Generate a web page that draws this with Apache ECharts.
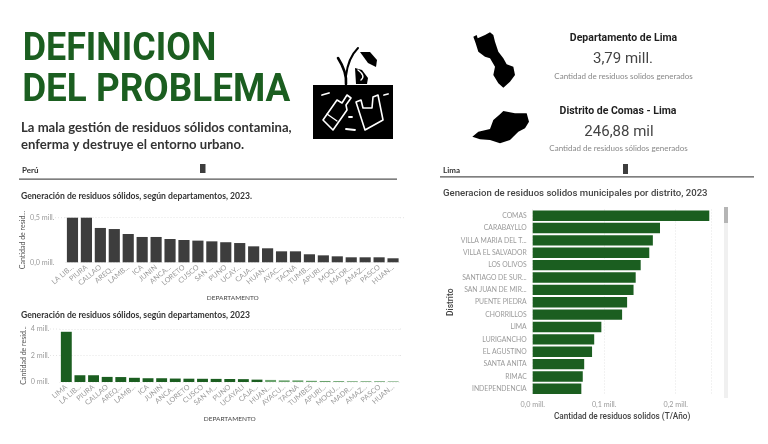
<!DOCTYPE html>
<html><head><meta charset="utf-8">
<style>html,body{margin:0;padding:0;background:#fff}#c{width:768px;height:444px}</style>
<script src="https://cdn.jsdelivr.net/npm/echarts@6/dist/echarts.min.js"></script>
</head><body><div id="c"></div>
<script>
const peruCats = ['LA LIB...','PIURA','CALLAO','AREQ...','LAMB...','ICA','JUNIN','ANCA...','LORETO','CUSCO','SAN ...','PUNO','UCAY...','CAJA...','HUAN...','AYAC...','TACNA','TUMB...','APURI...','MOQ...','MADR...','AMAZ...','PASCO','HUAN...'];
const peruVals = [0.51,0.51,0.385,0.373,0.317,0.284,0.284,0.261,0.25,0.243,0.235,0.225,0.216,0.179,0.157,0.123,0.123,0.09,0.078,0.067,0.056,0.056,0.056,0.045];
const allCats = ['LIMA','LA LIB...','PIURA','CALLAO','AREQ...','LAMB...','ICA','JUNIN','ANCA...','LORETO','CUSCO','SAN M...','PUNO','UCAYALI','CAJA...','HUAN...','AYACU...','TACNA','TUMBES','APURI...','MOQU...','MADR...','AMAZ...','PASCO','HUAN...'];
const allVals = [3.79,0.51,0.51,0.385,0.373,0.317,0.284,0.284,0.261,0.25,0.243,0.235,0.225,0.216,0.179,0.157,0.123,0.123,0.09,0.078,0.067,0.056,0.056,0.056,0.045];
const distCats = ['COMAS','CARABAYLLO','VILLA MARIA DEL T...','VILLA EL SALVADOR','LOS OLIVOS','SANTIAGO DE SUR...','SAN JUAN DE MIR...','PUENTE PIEDRA','CHORRILLOS','LIMA','LURIGANCHO','EL AGUSTINO','SANTA ANITA','RIMAC','INDEPENDENCIA'];
const distVals = [0.2469,0.178,0.168,0.163,0.151,0.144,0.141,0.132,0.125,0.096,0.086,0.083,0.072,0.070,0.068];

const DARK='#3d3d3d', GREEN='#1b5e20', LIGHT='#6aa36d', GREY='#9a9a9a';
const F='Lato';
const txt=(x,y,t,size,color,weight,extra,el)=>Object.assign({type:'text',x,y,silent:true,style:Object.assign({text:t,fontSize:size,fill:color,fontWeight:weight||'normal',fontFamily:F,textVerticalAlign:'middle'},extra||{})},el||{});
const rect=(x,y,w,h,c)=>({type:'rect',silent:true,shape:{x,y,width:w,height:h},style:{fill:c}});
const poly=(pts,c)=>({type:'polygon',silent:true,shape:{points:pts},style:{fill:c}});
const outline=(pts,c,w,fill)=>({type:'polygon',silent:true,shape:{points:pts},style:{fill:fill||'none',stroke:c,lineWidth:w,lineJoin:'round'}});
const curve=(x1,y1,cx,cy,x2,y2,c,w)=>({type:'bezierCurve',silent:true,shape:{x1,y1,cpx1:cx,cpy1:cy,x2,y2},style:{stroke:c,lineWidth:w,fill:'none',lineCap:'round'}});
const line=(a,b,c,d,col,w)=>({type:'line',silent:true,shape:{x1:a,y1:b,x2:c,y2:d},style:{stroke:col,lineWidth:w,lineCap:'round'}});
const dots=(a,b,y)=>({type:'line',silent:true,shape:{x1:a,y1:y,x2:b,y2:y},style:{stroke:'#e4e4e4',lineWidth:1,lineDash:[1,2]}});
const fromZoom=(pts,ox,oy)=>pts.map(p=>[ox+p[0]/3,oy+p[1]/3]);

const limaShape=[[25,35],[35,30],[38,40],[60,30],[75,22],[85,30],[90,50],[100,80],[115,100],[125,118],[145,125],[150,150],[135,170],[115,188],[100,175],[85,150],[90,125],[75,100],[60,95],[40,80],[32,55]];
const comasShape=[[22,335],[40,320],[75,312],[85,285],[105,268],[115,258],[150,265],[185,265],[192,290],[180,310],[160,320],[135,345],[105,355],[75,345],[45,343]];

const graphic=[
 txt(21,50,'DEFINICION',39,GREEN,'bold',{fontFamily:'Roboto'},{scaleX:0.92,originX:21}),
 txt(21,91,'DEL PROBLEMA',39,GREEN,'bold',{fontFamily:'Roboto'},{scaleX:0.945,originX:21}),
 txt(21,128,'La mala gestión de residuos sólidos contamina,',13.1,'#333','bold'),
 txt(21,145,'enferma y destruye el entorno urbano.',13.1,'#333','bold'),
 // icon
 rect(313,85,80,54,'#000'),
 curve(346,84,347,72,338,58,'#000',2.6),
 curve(346,76,348,58,358,48,'#000',2),
 poly([[360,52],[370,52],[377,60],[376,67],[368,63]],'#000'),
 poly([[355,68],[362,70],[368,78],[367,84],[356,84]],'#000'),
 curve(358,70,366,76,361,80,'#fff',1.4),
 outline([[323,120],[337,100],[342,103],[347,95],[351,98],[346,105],[347,110],[333,130]],'#fff',1.6,'#000'),
 line(327,114,337,121,'#fff',1.3),
 outline([[356,102],[361,100],[363,108],[372,108],[373,97],[378,95],[383,120],[365,130]],'#fff',1.6,'#000'),
 line(322,95,329,93,'#fff',1.8), line(349,117,352,117,'#fff',1.8), line(346,129,355,130,'#fff',1.8), line(384,95,388,94,'#fff',1.8),
 // maps
 poly(fromZoom(limaShape,465,25),'#000'),
 poly(fromZoom(comasShape,465,25),'#000'),
 txt(623.5,38,'Departamento de Lima',10.5,'#1f1f1f','bold',{textAlign:'center',fontFamily:'Roboto'}),
 txt(623,59.5,'3,79 mill.',15,'#444','normal',{textAlign:'center',fontFamily:'Roboto'}),
 txt(623.5,76,'Cantidad de residuos solidos generados',8,'#888','normal',{textAlign:'center'}),
 txt(618,111,'Distrito de Comas - Lima',10.5,'#1f1f1f','bold',{textAlign:'center',fontFamily:'Roboto'}),
 txt(619,132,'246,88 mil',15,'#444','normal',{textAlign:'center',fontFamily:'Roboto'}),
 txt(618.5,148,'Cantidad de residuos sólidos generados',8,'#888','normal',{textAlign:'center'}),
 // section headers
 txt(22,170,'Perú',8,'#333','bold'),
 rect(200,164,5.5,9,'#3d3d3d'),
 rect(19,178.5,378,1.2,'#555'),
 txt(443,170,'Lima',8,'#333','bold'),
 rect(623,164,5,10,'#3d3d3d'),
 rect(440,176.3,314,1.2,'#555'),
 txt(21,196,'Generación de residuos sólidos, según departamentos, 2023.',8.6,'#333','bold'),
 txt(21,315,'Generación de residuos sólidos, según departamentos, 2023',8.6,'#333','bold'),
 txt(443,193.5,'Generacion de residuos solidos municipales por distrito, 2023',9.6,'#444','500',{fontFamily:'Roboto'}),
 // scrollbar
 rect(724,207,4,191,'#f0f0f0'), rect(724,207,4,16,'#b5b5b5'),
 // gridline ends beyond the plot
 dots(55,65.5,217.7), dots(400,406,217.7),
 dots(50,59.5,329), dots(400,403,329), dots(50,59.5,355.5), dots(400,403,355.5)
];
const catAxis=(grid,data,name,gap)=>({type:'category',gridIndex:grid,data,
  axisLine:{show:false},axisTick:{show:false},
  axisLabel:{interval:0,rotate:40,fontSize:7.2,color:GREY,margin:4,fontFamily:F},
  name,nameLocation:'middle',nameGap:gap,nameTextStyle:{fontSize:6.5,color:'#444',fontFamily:F}});
const valAxis=(grid,min,max,interval,fmt,gap,margin)=>({type:'value',gridIndex:grid,min,max,interval,
  axisLine:{show:false},axisTick:{show:false},
  axisLabel:{fontSize:7.2,color:GREY,margin,fontFamily:F,formatter:fmt},
  splitLine:{show:true,lineStyle:{type:[1,2],color:'#e4e4e4',width:1}},
  name:'Cantidad de resid...',nameLocation:'middle',nameGap:gap,nameTextStyle:{fontSize:7,color:'#555',fontFamily:F}});
const mill=v=>v.toFixed(1).replace('.',',')+' mill.';
const chart=echarts.init(document.getElementById('c'),null,{renderer:'canvas'});
chart.setOption({
 animation:false,backgroundColor:'#fff',
 graphic,
 grid:[
  {left:65.5,width:334.5,top:217.7,height:44.6},
  {left:59.5,width:340.5,top:329,height:53},
  {left:532.7,width:178.8,top:209.5,height:185.5}
 ],
 xAxis:[
  catAxis(0,peruCats,'DEPARTAMENTO',32),
  catAxis(1,allCats,'DEPARTAMENTO',33),
  {type:'value',gridIndex:2,min:0,max:0.25,interval:0.1,
   axisLine:{show:false},axisTick:{show:false},
   axisLabel:{fontSize:7.2,color:GREY,margin:6,fontFamily:F,formatter:mill,showMaxLabel:false},
   splitLine:{show:true,lineStyle:{type:[1,2],color:'#e4e4e4'}},
   name:'Cantidad de residuos solidos (T/Año)',nameLocation:'middle',nameGap:18,
   nameTextStyle:{fontSize:8.2,color:'#444',fontWeight:500,fontFamily:'Roboto'}}
 ],
 yAxis:[
  valAxis(0,0,0.5,0.5,mill,38,11),
  valAxis(1,0,4,2,v=>v+' mill.',32,10),
  {type:'category',gridIndex:2,data:distCats,inverse:true,
   axisLine:{show:false},axisTick:{show:false},
   axisLabel:{fontSize:6.8,color:GREY,margin:6,interval:0,fontFamily:F},
   name:'Distrito',nameLocation:'middle',nameGap:77,
   nameTextStyle:{fontSize:8.5,color:'#444',fontWeight:500,fontFamily:'Roboto'}}
 ],
 series:[
  {type:'bar',xAxisIndex:0,yAxisIndex:0,data:peruVals,barCategoryGap:'20%',itemStyle:{color:DARK}},
  {type:'bar',xAxisIndex:1,yAxisIndex:1,barCategoryGap:'20%',
   data:allVals.map((v,i)=>({value:v,itemStyle:{color:i<15?GREEN:LIGHT}}))},
  {type:'bar',xAxisIndex:2,yAxisIndex:2,data:distVals,barCategoryGap:'16%',itemStyle:{color:GREEN}}
 ]
});
</script></body></html>
